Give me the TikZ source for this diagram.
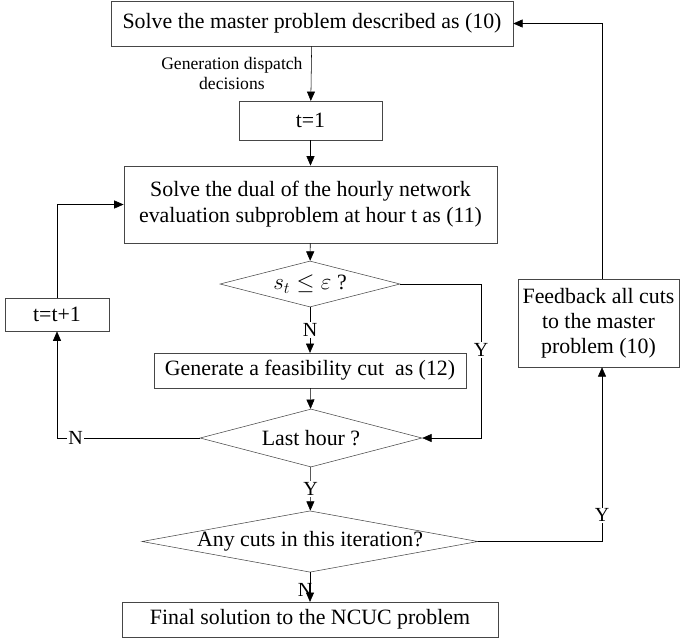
\documentclass[tikz,border=0pt]{standalone}
\usepackage{fontspec}
\setmainfont{Liberation Serif}
\usepackage{tikz}
\usetikzlibrary{calc, positioning, arrows.meta, shapes.geometric}
\definecolor{lineGrey}{RGB}{70,70,70}

\begin{document}
\begin{tikzpicture}[x=0.75pt, y=-0.75pt, font=\fontsize{16.4}{19.5}\selectfont,
    box/.style={draw=lineGrey, rectangle, inner sep=2pt, align=center},
    cond/.style={draw=lineGrey, diamond, inner sep=0pt},
    arr/.style={draw=black, -{Triangle[length=7pt, width=6pt]}},
    lab/.style={fill=white, inner sep=1pt, font=\fontsize{15}{17}\selectfont}]
  \useasboundingbox (0,0) rectangle (680,640);
  \node[box, minimum width=301.5pt, minimum height=33.75pt] (master) at (312,23.5)
    {Solve the master problem described as (10)};
  \node[box, minimum width=107pt, minimum height=29pt] (tone) at (310.5,120.5) {t=1};
  \node[box, minimum width=280pt, minimum height=58pt] (dual) at (310.5,204.5)
    {Solve the dual of the hourly network\\evaluation subproblem at hour t as (11)};
  \node[cond, minimum width=135pt, minimum height=34.5pt, shape aspect=3.9] (slack) at (310,284)
    {$s_t \leq \varepsilon$ ?};
  \node[box, minimum width=234pt, minimum height=26pt] (gencut) at (310,370.5)
    {Generate a feasibility cut\ \ as (12)};
  \node[box, minimum width=78pt, minimum height=25pt] (tinc) at (57,314.5) {t=t+1};
  \node[cond, minimum width=166.5pt, minimum height=43.5pt, shape aspect=3.8] (last) at (311,438)
    {Last hour ?};
  \node[cond, minimum width=252pt, minimum height=46pt, shape aspect=5.5] (anycut) at (310,541.5)
    {Any cuts in this iteration?};
  \node[box, minimum width=282pt, minimum height=26pt] (final) at (310,619.5)
    {Final solution to the NCUC problem};
  \node[box, minimum width=121pt, minimum height=66pt, font=\fontsize{16.4}{18.8}\selectfont] (feedback) at (598.5,323)
    {Feedback all cuts\\to the master\\problem (10)};
  \coordinate (ycorner) at (481,284);
  \coordinate (ncorner) at (57,438);
  \coordinate (tcorner) at (57,204.5);
  \coordinate (fcorner) at (602,541.5);
  \coordinate (mcorner) at (602,23.5);

  \draw[arr] (master) -- node[left, align=center, xshift=-3pt,
    font=\fontsize{13.2}{15}\selectfont] {Generation dispatch\\decisions} (tone);
  \draw[arr] (tone) -- (dual);
  \draw[arr] (dual) -- (slack);
  \draw[arr] (slack) -- node[lab] {N} (gencut);
  \draw[arr] (gencut) -- (last);
  \draw[arr] (slack.east) -- (ycorner) -- node[lab, pos=0.43] {Y} (ycorner |- last.east) -- (last.east);
  \draw[arr] (last.west) -- node[lab, pos=0.87] {N} (ncorner) -- (tinc);
  \draw[arr] (tinc) -- (tcorner) -- (dual.west);
  \draw[arr] (last) -- node[lab] {Y} (anycut);
  \draw[arr] (anycut) -- node[lab, fill=none, left, pos=0.6, xshift=3pt] {N} (final);
  \draw[arr] (anycut.east) -- (fcorner) -- node[lab, pos=0.15] {Y} (feedback.south -| fcorner);
  \draw[arr] (feedback.north -| mcorner) -- (mcorner) -- (master.east);
\end{tikzpicture}
\end{document}
